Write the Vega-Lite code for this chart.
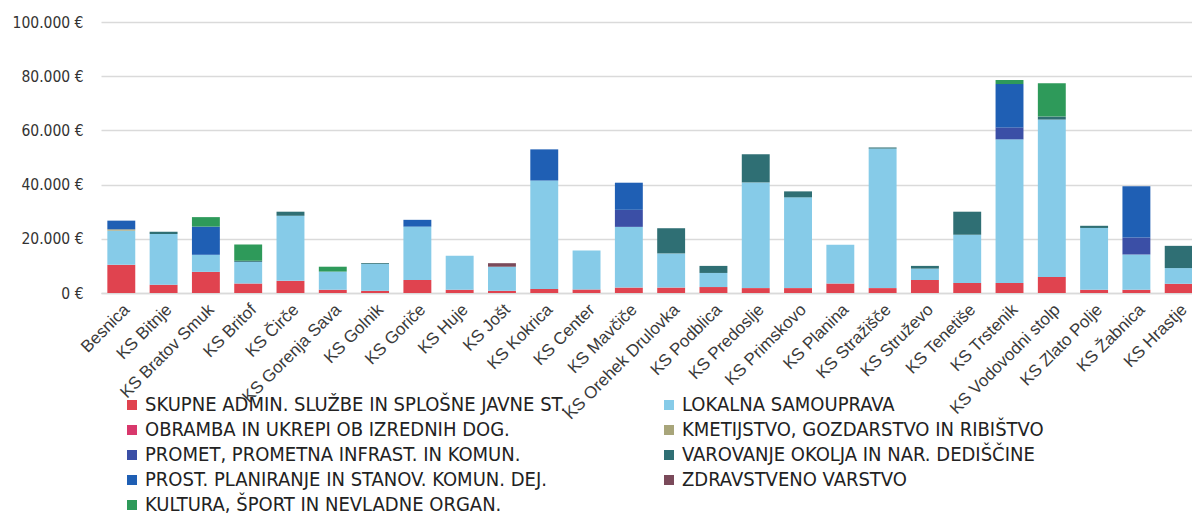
{
  "$schema": "https://vega.github.io/schema/vega-lite/v6.json",
  "width": 1098,
  "height": 271,
  "autosize": {"type": "none"},
  "padding": {"left": 101, "top": 22, "right": 0, "bottom": 229},
  "background": "white",
  "config": {"view": {"stroke": null}},
  "data": {
    "values": [
      {"k": "Besnica", "c": "a", "v": 10400}, {"k": "Besnica", "c": "b", "v": 12600}, {"k": "Besnica", "c": "d", "v": 500}, {"k": "Besnica", "c": "g", "v": 3200},
      {"k": "KS Bitnje", "c": "a", "v": 3000}, {"k": "KS Bitnje", "c": "b", "v": 18800}, {"k": "KS Bitnje", "c": "f", "v": 800},
      {"k": "KS Bratov Smuk", "c": "a", "v": 7800}, {"k": "KS Bratov Smuk", "c": "b", "v": 6300}, {"k": "KS Bratov Smuk", "c": "g", "v": 10400}, {"k": "KS Bratov Smuk", "c": "i", "v": 3500},
      {"k": "KS Britof", "c": "a", "v": 3500}, {"k": "KS Britof", "c": "b", "v": 8000}, {"k": "KS Britof", "c": "f", "v": 400}, {"k": "KS Britof", "c": "i", "v": 6000},
      {"k": "KS Čirče", "c": "a", "v": 4500}, {"k": "KS Čirče", "c": "b", "v": 24000}, {"k": "KS Čirče", "c": "f", "v": 1500},
      {"k": "KS Gorenja Sava", "c": "a", "v": 1200}, {"k": "KS Gorenja Sava", "c": "b", "v": 6700}, {"k": "KS Gorenja Sava", "c": "i", "v": 1800},
      {"k": "KS Golnik", "c": "a", "v": 800}, {"k": "KS Golnik", "c": "b", "v": 9900}, {"k": "KS Golnik", "c": "f", "v": 300},
      {"k": "KS Goriče", "c": "a", "v": 4800}, {"k": "KS Goriče", "c": "b", "v": 19700}, {"k": "KS Goriče", "c": "g", "v": 2500},
      {"k": "KS Huje", "c": "a", "v": 1200}, {"k": "KS Huje", "c": "b", "v": 12500},
      {"k": "KS Jošt", "c": "a", "v": 800}, {"k": "KS Jošt", "c": "b", "v": 8900}, {"k": "KS Jošt", "c": "h", "v": 1300},
      {"k": "KS Kokrica", "c": "a", "v": 1500}, {"k": "KS Kokrica", "c": "b", "v": 40000}, {"k": "KS Kokrica", "c": "g", "v": 11500},
      {"k": "KS Center", "c": "a", "v": 1300}, {"k": "KS Center", "c": "b", "v": 14400},
      {"k": "KS Mavčiče", "c": "a", "v": 2000}, {"k": "KS Mavčiče", "c": "b", "v": 22400}, {"k": "KS Mavčiče", "c": "e", "v": 6300}, {"k": "KS Mavčiče", "c": "g", "v": 10000},
      {"k": "KS Orehek Drulovka", "c": "a", "v": 2000}, {"k": "KS Orehek Drulovka", "c": "b", "v": 12600}, {"k": "KS Orehek Drulovka", "c": "f", "v": 9300},
      {"k": "KS Podblica", "c": "a", "v": 2200}, {"k": "KS Podblica", "c": "b", "v": 5200}, {"k": "KS Podblica", "c": "f", "v": 2600},
      {"k": "KS Predoslje", "c": "a", "v": 1800}, {"k": "KS Predoslje", "c": "b", "v": 39000}, {"k": "KS Predoslje", "c": "f", "v": 10400},
      {"k": "KS Primskovo", "c": "a", "v": 1800}, {"k": "KS Primskovo", "c": "b", "v": 33500}, {"k": "KS Primskovo", "c": "f", "v": 2200},
      {"k": "KS Planina", "c": "a", "v": 3500}, {"k": "KS Planina", "c": "b", "v": 14300},
      {"k": "KS Stražišče", "c": "a", "v": 1800}, {"k": "KS Stražišče", "c": "b", "v": 51500}, {"k": "KS Stražišče", "c": "f", "v": 400},
      {"k": "KS Struževo", "c": "a", "v": 4800}, {"k": "KS Struževo", "c": "b", "v": 4200}, {"k": "KS Struževo", "c": "f", "v": 1000},
      {"k": "KS Tenetiše", "c": "a", "v": 3700}, {"k": "KS Tenetiše", "c": "b", "v": 17800}, {"k": "KS Tenetiše", "c": "f", "v": 8500},
      {"k": "KS Trstenik", "c": "a", "v": 3700}, {"k": "KS Trstenik", "c": "b", "v": 53000}, {"k": "KS Trstenik", "c": "e", "v": 4400}, {"k": "KS Trstenik", "c": "g", "v": 16000}, {"k": "KS Trstenik", "c": "i", "v": 1500},
      {"k": "KS Vodovodni stolp", "c": "a", "v": 5900}, {"k": "KS Vodovodni stolp", "c": "b", "v": 58100}, {"k": "KS Vodovodni stolp", "c": "f", "v": 1100}, {"k": "KS Vodovodni stolp", "c": "i", "v": 12300},
      {"k": "KS Zlato Polje", "c": "a", "v": 1200}, {"k": "KS Zlato Polje", "c": "b", "v": 22800}, {"k": "KS Zlato Polje", "c": "f", "v": 800},
      {"k": "KS Žabnica", "c": "a", "v": 1200}, {"k": "KS Žabnica", "c": "b", "v": 13000}, {"k": "KS Žabnica", "c": "e", "v": 6300}, {"k": "KS Žabnica", "c": "g", "v": 18900},
      {"k": "KS Hrastje", "c": "a", "v": 3400}, {"k": "KS Hrastje", "c": "b", "v": 5800}, {"k": "KS Hrastje", "c": "f", "v": 8200}
    ]
  },
  "mark": {"type": "bar"},
  "encoding": {
    "x": {
      "field": "k", "type": "nominal", "sort": null,
      "scale": {"paddingInner": 0.34, "paddingOuter": 0.15},
      "axis": {"title": null, "labelAngle": -45, "labelFontSize": 17, "labelColor": "#3a3a3a", "labelFont": "Liberation Sans", "ticks": false, "domainColor": "#dadada", "domainWidth": 1.5, "labelPadding": 8}
    },
    "y": {
      "field": "v", "type": "quantitative", "stack": "zero",
      "scale": {"domain": [0, 100000]},
      "axis": {"title": null, "values": [0, 20000, 40000, 60000, 80000, 100000], "labelExpr": "replace(format(datum.value, ',.0f'), /,/g, '.') + ' €'", "domain": false, "ticks": false, "labelPadding": 18, "gridColor": "#dadada", "gridWidth": 1.5, "labelFontSize": 15.5, "labelColor": "#333333", "labelFont": "DejaVu Sans Condensed, Liberation Sans"}
    },
    "order": {"field": "c", "type": "nominal", "sort": "ascending"},
    "color": {
      "field": "c", "type": "nominal",
      "scale": {
        "domain": ["a", "b", "c", "d", "e", "f", "g", "h", "i"],
        "range": ["#e0434f", "#86cbe8", "#d8386c", "#a8a57a", "#3b4fa6", "#2f6f74", "#1f5fb4", "#7a4a5a", "#2e9a5a"]
      },
      "legend": {
        "title": null, "orient": "none", "legendX": 21, "legendY": 373, "columns": 2,
        "values": ["a", "c", "e", "g", "i", "b", "d", "f", "h"],
        "columnPadding": 93, "rowPadding": 5, "symbolType": "square", "symbolSize": 100, "symbolStrokeWidth": 0,
        "labelFont": "DejaVu Sans Condensed, Liberation Sans", "labelFontSize": 20, "labelColor": "#222222", "labelOffset": 3, "labelLimit": 600,
        "labelExpr": "{'a': 'SKUPNE ADMIN. SLUŽBE IN SPLOŠNE JAVNE ST.', 'b': 'LOKALNA SAMOUPRAVA', 'c': 'OBRAMBA IN UKREPI OB IZREDNIH DOG.', 'd': 'KMETIJSTVO, GOZDARSTVO IN RIBIŠTVO', 'e': 'PROMET, PROMETNA INFRAST. IN KOMUN.', 'f': 'VAROVANJE OKOLJA IN NAR. DEDIŠČINE', 'g': 'PROST. PLANIRANJE IN STANOV. KOMUN. DEJ.', 'h': 'ZDRAVSTVENO VARSTVO', 'i': 'KULTURA, ŠPORT IN NEVLADNE ORGAN.'}[datum.value]"
      }
    }
  }
}
